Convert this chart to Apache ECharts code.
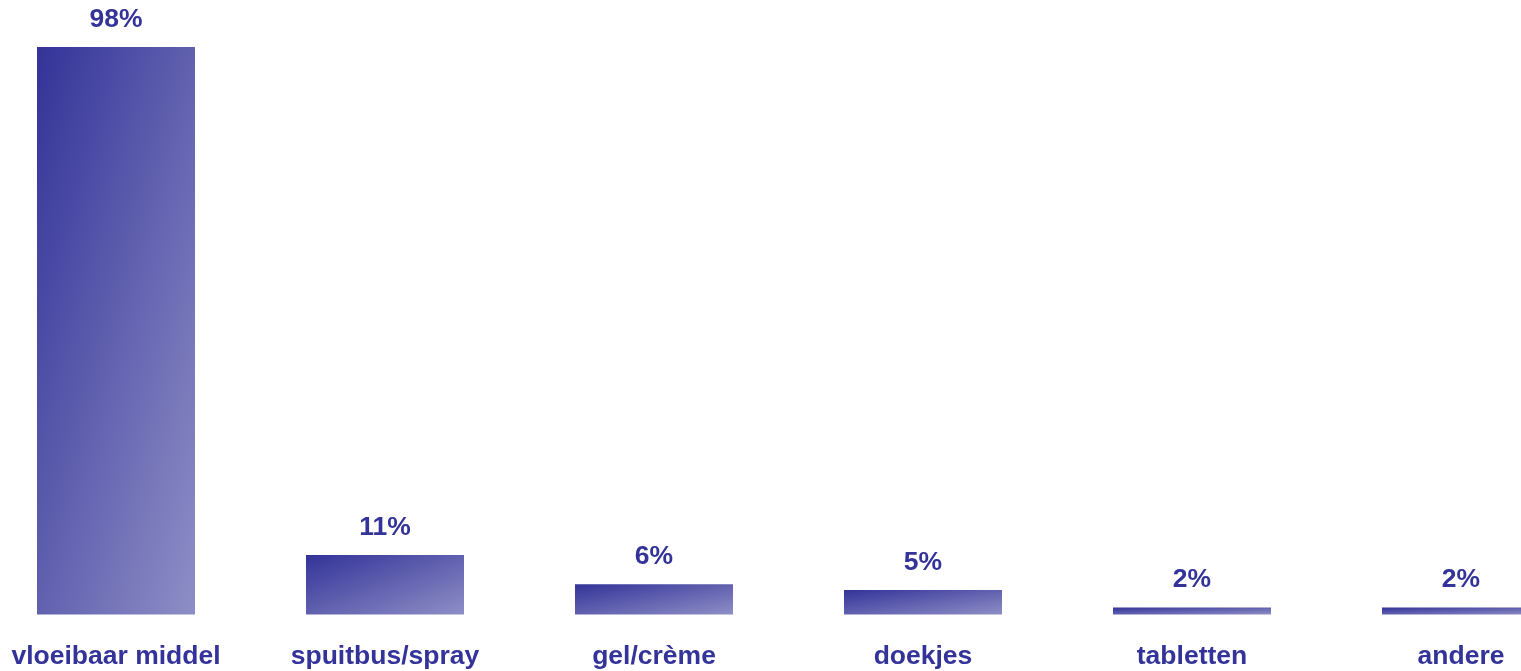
<!DOCTYPE html>
<html>
<head>
<meta charset="utf-8">
<title>Gebruikte middelen</title>
<script src="https://cdn.jsdelivr.net/npm/echarts@6/dist/echarts.min.js"></script>
<style>
  html, body { margin: 0; padding: 0; background: #ffffff; }
  #chart { width: 1521px; height: 671px; }
</style>
</head>
<body>
<div id="chart"></div>
<script>
// Categories and percentages
const categories = ['vloeibaar middel', 'spuitbus/spray', 'gel/crème', 'doekjes', 'tabletten', 'andere'];
const percentages = [98, 11, 6, 5, 2, 2];

const textColor = '#333399';
const fontFamily = "'Liberation Sans', Arial, Helvetica, sans-serif";
const darkFill = '#333399';
const lightFill = '#8e8ec6';
const barWidthPx = 158;
const axisStart = 0.8;

const chart = echarts.init(document.getElementById('chart'), null, { renderer: 'canvas' });

const labelStyle = {
  color: textColor,
  fontSize: 26.5,
  fontWeight: 'bold',
  fontFamily: fontFamily
};

chart.setOption({
  animation: false,
  backgroundColor: '#ffffff',
  grid: {
    left: -18.5, right: -74.5, top: 47, bottom: 56.5,
    outerBoundsMode: 'none',
    containLabel: false
  },
  xAxis: {
    type: 'category',
    data: categories,
    axisLine: { show: false },
    axisTick: { show: false },
    axisLabel: Object.assign({ interval: 0, margin: 29 }, labelStyle)
  },
  yAxis: {
    type: 'value',
    min: axisStart,
    max: 98,
    startValue: axisStart,
    show: false,
    splitLine: { show: false }
  },
  series: [{
    type: 'bar',
    data: percentages,
    barWidth: barWidthPx,
    clip: true,
    itemStyle: { color: darkFill },
    label: Object.assign({
      show: true,
      position: 'top',
      distance: 14,
      formatter: '{c}%'
    }, labelStyle)
  }]
});

// Corner-to-corner shading: the fill runs from the top-left corner to the
// bottom-right corner of each bar, with the colour bands parallel to the
// other diagonal, so the direction depends on each bar's own proportions.
function cornerGradient(w, h) {
  const s = w * w + h * h;
  return new echarts.graphic.LinearGradient(0, 0, 2 * h * h / s, 2 * w * w / s, [
    { offset: 0, color: darkFill },
    { offset: 1, color: lightFill }
  ]);
}

const shaded = percentages.map(function (v, i) {
  const top = chart.convertToPixel({ seriesIndex: 0 }, [i, v]);
  const base = chart.convertToPixel({ seriesIndex: 0 }, [i, axisStart]);
  const h = Math.max(1, Math.abs(base[1] - top[1]));
  return { value: v, itemStyle: { color: cornerGradient(barWidthPx, h) } };
});

chart.setOption({ series: [{ data: shaded }] });
</script>
</body>
</html>
